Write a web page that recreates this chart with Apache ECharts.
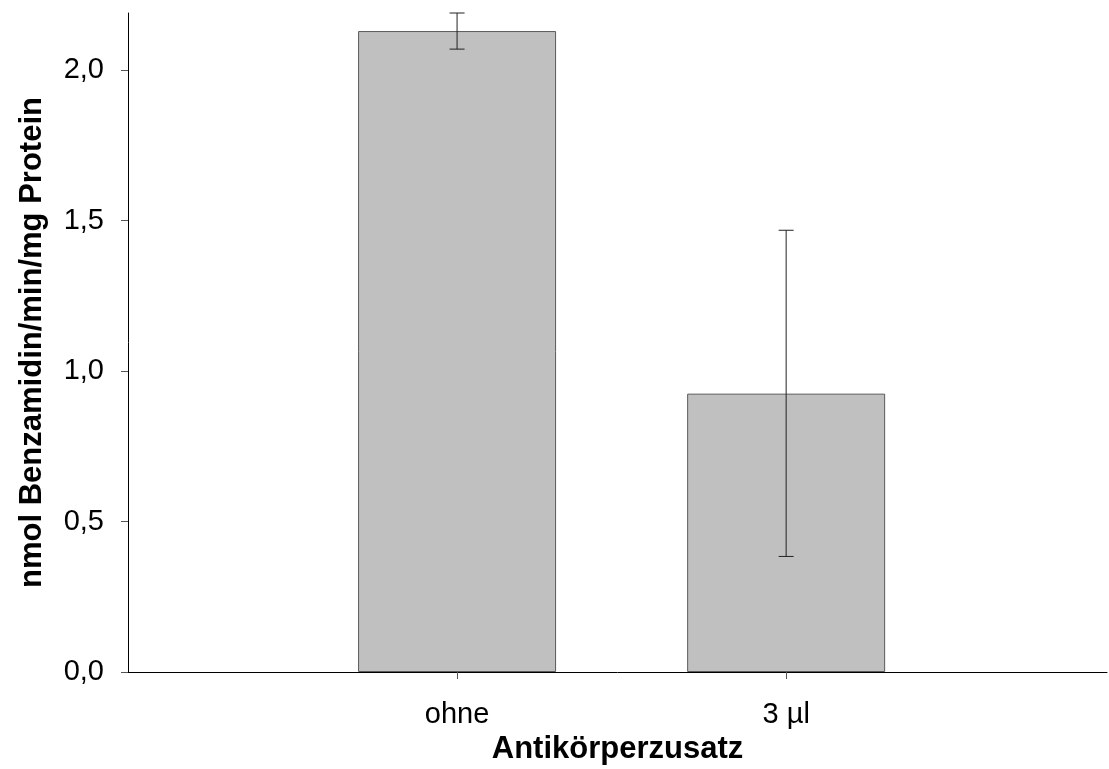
<!DOCTYPE html>
<html>
<head>
<meta charset="utf-8">
<script src="https://cdn.jsdelivr.net/npm/echarts@6/dist/echarts.min.js"></script>
<style>
html,body{margin:0;padding:0;background:#fff;}
#c{width:1109px;height:769px;}
</style>
</head>
<body>
<div id="c"></div>
<script>
// Data
var categories = ['ohne', '3 µl'];
var positions = [1, 2];
var means = [2.13, 0.925];
var upper = [2.19, 1.468];
var lower = [2.07, 0.384];
var yTicks = [0, 0.5, 1.0, 1.5, 2.0];

var FONT = "'Liberation Sans', Arial, sans-serif";

var barData = positions.map(function (p, i) { return [p, means[i]]; });
var errData = positions.map(function (p, i) { return [p, lower[i], upper[i]]; });

var chart = echarts.init(document.getElementById('c'), null, {renderer: 'canvas'});
chart.setOption({
  backgroundColor: '#ffffff',
  animation: false,
  grid: {left: 128, right: 2, top: 13, bottom: 97, containLabel: false, outerBoundsMode: 'none'},
  xAxis: {
    type: 'value',
    min: 0,
    max: 2.975,
    interval: 1,
    name: 'Antikörperzusatz',
    nameLocation: 'middle',
    nameGap: 61,
    nameTextStyle: {fontFamily: FONT, fontSize: 31, fontWeight: 'bold', color: '#000'},
    splitLine: {show: false},
    axisLine: {show: true, onZero: false, lineStyle: {color: '#000', width: 1}},
    axisTick: {show: true, length: 7, inside: false, customValues: positions, lineStyle: {color: '#555', width: 1}},
    axisLabel: {
      show: true, margin: 28, customValues: positions,
      fontFamily: FONT, fontSize: 29, color: '#000',
      formatter: function (v) { var i = positions.indexOf(v); return i >= 0 ? categories[i] : ''; }
    }
  },
  yAxis: {
    type: 'value',
    min: 0,
    max: 2.19,
    interval: 0.5,
    name: 'nmol Benzamidin/min/mg Protein',
    nameLocation: 'middle',
    nameGap: 80,
    nameRotate: 90,
    nameTextStyle: {fontFamily: FONT, fontSize: 31, fontWeight: 'bold', color: '#000'},
    splitLine: {show: false},
    axisLine: {show: true, lineStyle: {color: '#000', width: 1}},
    axisTick: {show: true, length: 7, inside: false, customValues: yTicks, lineStyle: {color: '#555', width: 1}},
    axisLabel: {
      show: true, margin: 24, customValues: yTicks,
      fontFamily: FONT, fontSize: 29, color: '#000',
      formatter: function (v) { return v.toFixed(1).replace('.', ','); }
    }
  },
  series: [
    {
      type: 'bar',
      data: barData,
      barWidth: 198,
      itemStyle: {color: '#c0c0c0', borderColor: '#5a5a5a', borderWidth: 1}
    },
    {
      type: 'custom',
      data: errData,
      z: 10,
      renderItem: function (params, api) {
        var x = api.value(0);
        var lo = api.coord([x, api.value(1)]);
        var hi = api.coord([x, api.value(2)]);
        var half = 7.5;
        var style = {stroke: '#222', lineWidth: 1};
        return {
          type: 'group',
          children: [
            {type: 'line', shape: {x1: lo[0], y1: lo[1], x2: hi[0], y2: hi[1]}, style: style},
            {type: 'line', shape: {x1: hi[0] - half, y1: hi[1], x2: hi[0] + half, y2: hi[1]}, style: style},
            {type: 'line', shape: {x1: lo[0] - half, y1: lo[1], x2: lo[0] + half, y2: lo[1]}, style: style}
          ]
        };
      }
    }
  ]
});
</script>
</body>
</html>
